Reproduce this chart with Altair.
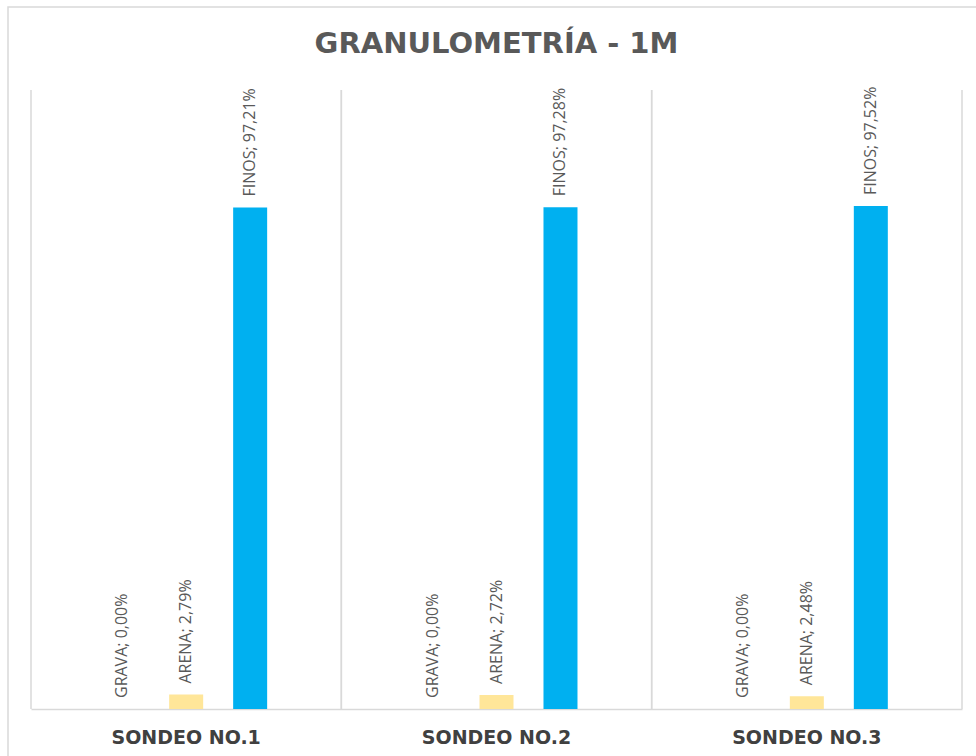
import altair as alt
import pandas as pd

# Granulometry of each borehole at 1 m depth (percent by weight)
sondeos = ["SONDEO NO.1", "SONDEO NO.2", "SONDEO NO.3"]
componentes = ["GRAVA", "ARENA", "FINOS"]
grava = [0.00, 0.00, 0.00]
arena = [2.79, 2.72, 2.48]
finos = [97.21, 97.28, 97.52]
colores = ["#A5A5A5", "#FFE699", "#00B0F0"]

rows = []
for i, s in enumerate(sondeos):
    for comp, serie in zip(componentes, [grava, arena, finos]):
        v = serie[i]
        rows.append({
            "sondeo": s,
            "comp": comp,
            "valor": v,
            "etiqueta": f"{comp}; {v:.2f}%".replace(".", ","),
        })
df = pd.DataFrame(rows)
df_sondeos = pd.DataFrame({"sondeo": sondeos})

W, H = 931, 619
GRID = "#D9D9D9"

x_enc = alt.X(
    "sondeo:N",
    sort=sondeos,
    scale=alt.Scale(paddingInner=0, paddingOuter=0),
    axis=alt.Axis(
        title=None, labelAngle=0, labelAlign="center", ticks=False, grid=False,
        domainColor=GRID, domainWidth=1.5,
        labelFont="DejaVu Sans", labelFontWeight="bold", labelFontSize=19,
        labelColor="#404040", labelPadding=34, labelBaseline="alphabetic",
    ),
)
y_enc = alt.Y("valor:Q", scale=alt.Scale(domain=[0, 120]), axis=None)
off_enc = alt.XOffset(
    "comp:N", sort=componentes,
    scale=alt.Scale(paddingInner=0.15, paddingOuter=1),
)

# outer chart frame
frame = alt.Chart(pd.DataFrame({"k": [0]})).mark_rect(
    fillOpacity=0, stroke=GRID, strokeWidth=1.5
).encode(
    x=alt.value(-23), x2=alt.value(W + 60),
    y=alt.value(-83), y2=alt.value(H + 80),
)

# vertical separators at the category boundaries
grid_left = alt.Chart(df_sondeos).mark_rule(color=GRID, strokeWidth=1.5).encode(
    x=alt.X("sondeo:N", sort=sondeos, bandPosition=0)
)
grid_right = alt.Chart(df_sondeos).mark_rule(color=GRID, strokeWidth=1.5).encode(
    x=alt.X("sondeo:N", sort=sondeos, bandPosition=1)
)

base = alt.Chart(df).encode(x=x_enc, xOffset=off_enc, y=y_enc)

bars = base.mark_bar(width=34).encode(
    color=alt.Color("comp:N", scale=alt.Scale(domain=componentes, range=colores), legend=None)
)

labels = base.mark_text(
    angle=270, align="left", baseline="middle", dx=11,
    font="Open Sans", fontSize=16, color="#595959",
).encode(text="etiqueta:N")

chart = alt.layer(frame, grid_left, grid_right, bars, labels).properties(
    width=W,
    height=H,
    background="white",
    autosize=alt.AutoSizeParams(type="none"),
    padding={"left": 31, "top": 90, "right": 14, "bottom": 47},
    title=alt.TitleParams(
        "GRANULOMETRÍA  - 1M",
        font="DejaVu Sans", fontSize=29, fontWeight="bold", color="#595959",
        anchor="middle", offset=-76, baseline="alphabetic",
    ),
).configure_view(stroke="transparent", strokeWidth=0)

chart.save("out.html", embed_options={"renderer": "svg", "actions": False})
